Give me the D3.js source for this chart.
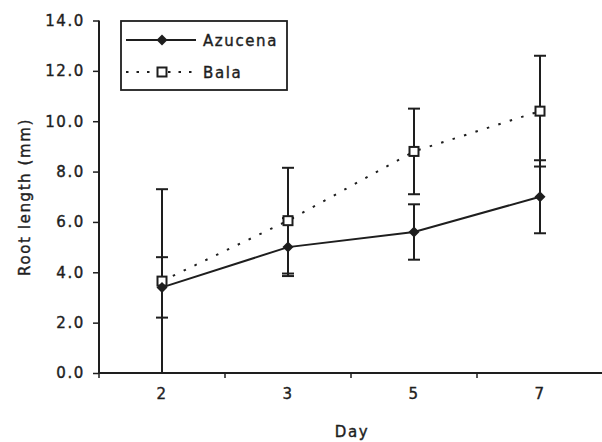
<!DOCTYPE html>
<html>
<head>
<meta charset="utf-8">
<script src="https://cdnjs.cloudflare.com/ajax/libs/d3/7.8.5/d3.min.js"></script>
<style>
  body { margin: 0; background: #fff; }
  svg text { font-family: "DejaVu Sans", sans-serif; font-size: 15px; fill: #1e1e1e; stroke: #1e1e1e; stroke-width: 0.4px; letter-spacing: 1.6px; }
</style>
</head>
<body>
<div id="chart"></div>
<script>
// values
var days = ["2", "3", "5", "7"];
var azucena = [3.4, 5.0, 5.6, 7.0];
var azucenaErr = [1.2, 1.15, 1.1, 1.45];
var bala = [3.65, 6.05, 8.8, 10.4];
var balaErr = [3.65, 2.1, 1.7, 2.2];
var yTicks = [0, 2, 4, 6, 8, 10, 12, 14];

var width = 602, height = 442;
var ink = "#1e1e1e";

var svg = d3.select("#chart").append("svg")
    .attr("width", width)
    .attr("height", height);

var x = d3.scaleBand().domain(days).range([99, 603]).padding(0);
var y = d3.scaleLinear().domain([0, 14]).range([373, 20.5]);
var cx = function(d) { return x(d) + x.bandwidth() / 2; };

var series = [
    {name: "Bala", vals: bala, err: balaErr, dash: "2.5,9.5", marker: "square"},
    {name: "Azucena", vals: azucena, err: azucenaErr, dash: null, marker: "diamond"}
];

// y axis
var yAxis = svg.append("g")
    .attr("transform", "translate(99,0)")
    .call(d3.axisLeft(y).tickValues(yTicks).tickSize(6).tickPadding(8).tickFormat(d3.format(".1f")));
yAxis.select(".domain").attr("stroke", ink).attr("stroke-width", 2).attr("d", "M0," + y(14) + "V" + y(0));
yAxis.selectAll(".tick line").attr("stroke", ink).attr("stroke-width", 1.5);
yAxis.selectAll(".tick text").style("font-size", "15px").attr("fill", ink);

// x axis: labels in the middle, ticks between the categories
var xAxis = svg.append("g")
    .attr("transform", "translate(0,373)")
    .call(d3.axisBottom(x).tickSize(0).tickPadding(15));
xAxis.select(".domain").attr("stroke", ink).attr("stroke-width", 2).attr("d", "M99,0H602");
xAxis.selectAll(".tick text").style("font-size", "15px").attr("fill", ink);
xAxis.selectAll("line.sep")
    .data(days.map(function(d) { return x(d); }))
    .enter().append("line")
    .attr("class", "sep")
    .attr("x1", function(d) { return d; })
    .attr("x2", function(d) { return d; })
    .attr("y1", 0).attr("y2", 5)
    .attr("stroke", ink).attr("stroke-width", 1.5);

// axis titles
svg.append("text")
    .attr("x", 352).attr("y", 437)
    .attr("text-anchor", "middle")
    .text("Day");
svg.append("text")
    .attr("transform", "translate(30,197) rotate(-90)")
    .attr("text-anchor", "middle")
    .text("Root length (mm)");

function drawMarker(g, type) {
    if (type === "square") {
        g.append("rect")
            .attr("x", -4.5).attr("y", -4.5)
            .attr("width", 9).attr("height", 9)
            .attr("fill", "#fff").attr("stroke", ink).attr("stroke-width", 2);
    } else {
        g.append("path")
            .attr("d", "M0,-5.5L5.5,0L0,5.5L-5.5,0Z")
            .attr("fill", ink);
    }
}

var line = d3.line()
    .x(function(d, i) { return cx(days[i]); })
    .y(function(d) { return y(d); });

series.forEach(function(s) {
    var g = svg.append("g");
    g.append("path")
        .datum(s.vals)
        .attr("d", line)
        .attr("fill", "none")
        .attr("stroke", ink)
        .attr("stroke-width", 2)
        .attr("stroke-dasharray", s.dash);

    var eb = g.selectAll("g.err")
        .data(s.vals)
        .enter().append("g")
        .attr("class", "err");
    eb.append("line")
        .attr("x1", function(d, i) { return cx(days[i]); })
        .attr("x2", function(d, i) { return cx(days[i]); })
        .attr("y1", function(d, i) { return y(d + s.err[i]); })
        .attr("y2", function(d, i) { return y(Math.max(0, d - s.err[i])); })
        .attr("stroke", ink).attr("stroke-width", 2);
    [1, -1].forEach(function(sign) {
        eb.append("line")
            .attr("x1", function(d, i) { return cx(days[i]) - 6; })
            .attr("x2", function(d, i) { return cx(days[i]) + 6; })
            .attr("y1", function(d, i) { return y(Math.max(0, d + sign * s.err[i])); })
            .attr("y2", function(d, i) { return y(Math.max(0, d + sign * s.err[i])); })
            .attr("stroke", ink).attr("stroke-width", 2);
    });
});

series.forEach(function(s) {
    s.vals.forEach(function(v, i) {
        var m = svg.append("g").attr("transform", "translate(" + cx(days[i]) + "," + y(v) + ")");
        drawMarker(m, s.marker);
    });
});

// legend
var legend = svg.append("g");
legend.append("rect")
    .attr("x", 121).attr("y", 21)
    .attr("width", 166).attr("height", 69)
    .attr("fill", "#fff").attr("stroke", ink).attr("stroke-width", 1.8);
var legendItems = [series[1], series[0]];
legendItems.forEach(function(s, i) {
    var ly = 40 + i * 32;
    legend.append("line")
        .attr("x1", 126).attr("x2", 196)
        .attr("y1", ly).attr("y2", ly)
        .attr("stroke", ink).attr("stroke-width", 2)
        .attr("stroke-dasharray", s.dash ? "2.5,8" : null);
    drawMarker(legend.append("g").attr("transform", "translate(162," + ly + ")"), s.marker);
    legend.append("text")
        .attr("x", 203).attr("y", ly + 6)
        .text(s.name);
});
</script>
</body>
</html>
